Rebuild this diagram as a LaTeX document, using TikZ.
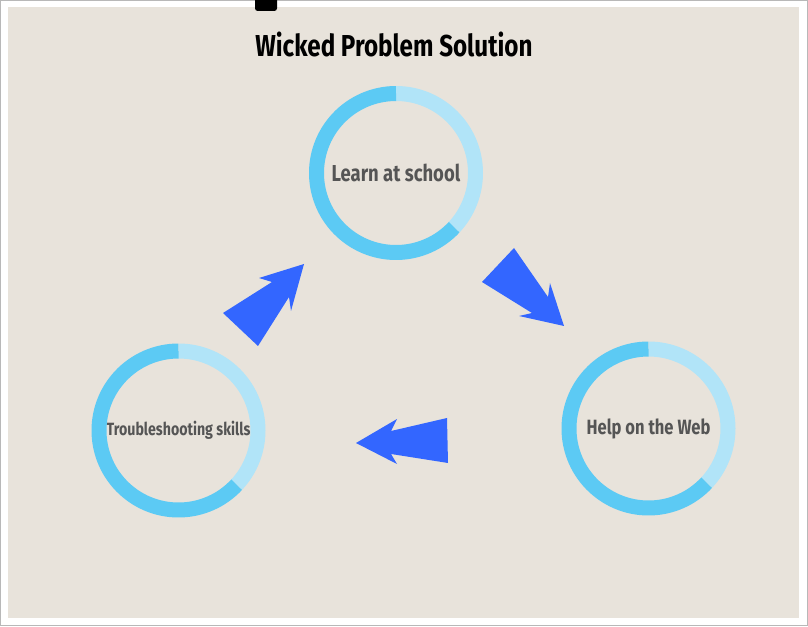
\documentclass[tikz,border=0pt]{standalone}
\usepackage{fontspec}
\setmainfont{Fira Sans}[FakeStretch=0.8]
\usepackage{tikz}
\usetikzlibrary{positioning}
\definecolor{wpPaper}{HTML}{E8E3DB}
\definecolor{wpFrame}{HTML}{B8B8B8}
\definecolor{wpRingDark}{HTML}{5CCAF4}
\definecolor{wpRingLight}{HTML}{B1E4F8}
\definecolor{wpArrow}{HTML}{3366FF}
\definecolor{wpText}{HTML}{555555}

\begin{document}
\begin{tikzpicture}[
  x=0.75pt, y=0.75pt,
  ring/.style={circle, inner sep=0pt, outer sep=0pt, minimum size=119.25pt,
               text=wpText, font=\bfseries\fontsize{15.5}{18}\selectfont},
  lightring/.style={draw=wpRingLight, line width=11.25pt},
  darkring/.style={draw=wpRingDark, line width=11.25pt},
  blockarrow/.style={fill=wpArrow}
]
\useasboundingbox (0,0) rectangle (808,626);
\filldraw[fill=white, draw=wpFrame, line width=0.75pt] (0.5,0.5) rectangle (807.5,625.5);
\fill[wpPaper] (8,8) rectangle (799,619);
\fill[black, rounded corners=2pt] (255,615) rectangle (277,630);

\node[font=\bfseries\fontsize{22.7}{26}\selectfont] (title) at (394,582) {Wicked Problem Solution};

\node[ring, font=\bfseries\fontsize{17.3}{20}\selectfont] (school) at (396,453) {Learn at school};
\node[ring] (web) at (648.5,197.5) {Help on the Web};
\node[ring, font=\bfseries\fontsize{13.3}{16}\selectfont] (skills) at (178.5,195.5) {Troubleshooting skills};

\foreach \n in {school,web,skills}{
  \draw[lightring] (\n.90) arc (90:-43:79.5);
  \draw[darkring] (\n.-43) arc (-43:-270:79.5);
}

\fill[blockarrow] (223,313) -- (258,280) -- (289,329) -- (291,315) -- (304,362) -- (259,348) -- (272,344) -- cycle;
\fill[blockarrow] (514,378) -- (548,329) -- (550,343) -- (564,300) -- (519,310) -- (532,313) -- (482,344) -- cycle;
\fill[blockarrow] (447,208) -- (391,195) -- (397,207) -- (356,183) -- (397,162) -- (391,172) -- (448,163) -- cycle;
\end{tikzpicture}
\end{document}
